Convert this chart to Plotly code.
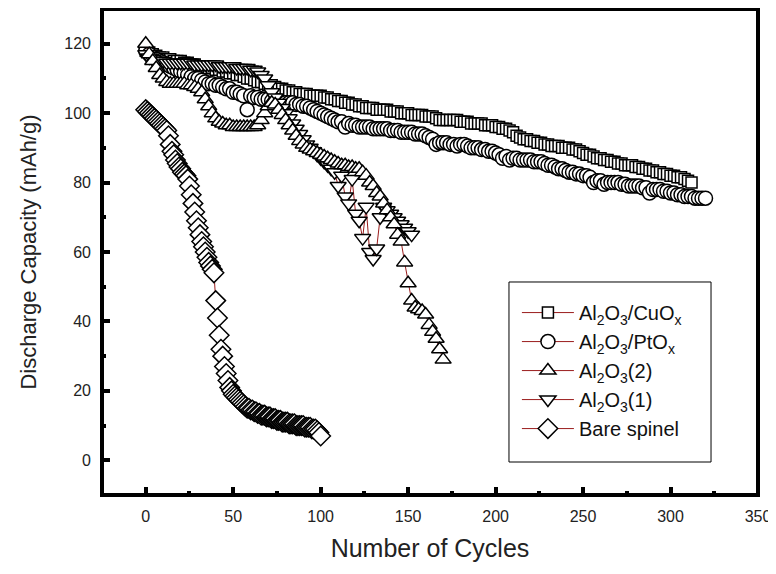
import plotly.graph_objects as go

# ---------------- data ----------------
cuo_cycles = list(range(0, 313, 2))
cuo_capacity = [
    118, 117.5, 117, 116.5, 116, 116, 115.5, 115.5, 115, 115,
    115, 114.5, 114.5, 114, 114, 113.5, 113.5, 113, 113, 113,
    112.5, 112.5, 112, 112, 111.5, 111.5, 111, 111, 110.5, 110,
    110, 109.5, 109, 109, 108.5, 108, 108, 107.5, 107, 107,
    106.5, 106.5, 106, 106, 105.5, 105.5, 105.5, 105, 105, 105,
    105, 104.5, 104.5, 104, 104, 103.5, 103.5, 103, 103, 102.5,
    102.5, 102, 102, 101.5, 101.5, 101.5, 101, 101, 101, 101,
    100.5, 100.5, 100.5, 100, 100, 100, 99.5, 99.5, 99.5, 99.5,
    99, 99, 99, 98.5, 98, 98, 98, 98, 98, 98,
    97.5, 97.5, 97.5, 97, 97, 97, 97, 96.5, 96.5, 96.5,
    96, 96, 95.5, 95.5, 95, 94.5, 93.5, 93, 92.5, 92.5,
    92, 92, 91.5, 91.5, 91, 91, 90.5, 90.5, 90.5, 90,
    90, 90, 89.5, 89.5, 89, 88.5, 88, 88, 87.5, 87,
    87, 86.5, 86.5, 86, 86, 85.5, 85.5, 85, 85, 85,
    84.5, 84.5, 84, 84, 83.5, 83.5, 83, 83, 82.5, 82.5,
    82, 82, 81.5, 81.5, 81, 80.5, 80,
]

pto_cycles = list(range(0, 321, 2))
pto_capacity = [
    118, 117, 116, 115.5, 115, 114.5, 114, 113.5, 113, 112.5,
    112, 111.5, 111, 110.5, 110, 110, 109.5, 109, 108.5, 108.5,
    108, 108, 107.5, 107, 107, 106, 106, 105.5, 105, 101,
    105, 104.5, 104.5, 104, 104, 104, 103.5, 103.5, 103.5, 103,
    103, 103, 103, 102.5, 102.5, 102, 102, 101.5, 101, 100.5,
    100, 99.5, 99, 98.5, 98, 97.5, 97.5, 96, 97, 96.5,
    96.5, 96, 96, 96, 96, 95.5, 95.5, 95.5, 95.5, 95.5,
    95, 95, 95, 94.5, 94.5, 94.5, 94.5, 94, 94, 94,
    93.5, 93, 92.5, 91, 91.5, 91.5, 91.5, 91, 91, 90.5,
    91, 91, 90.5, 90, 90, 90, 89.5, 89.5, 89, 89,
    88.5, 88, 87, 87.5, 86.5, 87, 87, 86.5, 86.5, 86.5,
    86.5, 86, 86, 86, 85.5, 85, 85, 84.5, 84, 84,
    83.5, 83, 83, 82.5, 82.5, 82, 82, 81.5, 80, 80.5,
    80.5, 79.5, 80, 80, 80, 80, 79.5, 79.5, 79, 79,
    79, 79, 78.5, 78.5, 77, 78, 78, 78, 77.5, 77.5,
    77, 77, 76.5, 76.5, 76, 76, 76, 75.5, 75.5, 75.5,
    75.5,
]

al2_cycles = list(range(0, 171, 2))
al2_capacity = [
    120, 117, 115, 113, 111, 110, 109, 108.5, 108.5, 108.5,
    108.5, 108.5, 108, 108, 107.5, 107, 106, 104, 102, 100,
    98.5, 97.5, 97, 96.5, 96.5, 96, 96, 96, 96, 96,
    96, 96, 96.5, 98, 100, 102, 103, 102.5, 101, 99.5,
    98, 96.5, 95, 93.5, 92, 91, 90, 89.5, 89, 88.5,
    88, 87.5, 87, 86.5, 86, 85.5, 85, 85, 84.5, 84.5,
    84, 84, 83, 82, 80, 79, 77, 76, 74, 72,
    70, 68, 65, 63, 57, 51, 46, 44, 43.5, 43,
    42, 39, 37, 35, 32, 29,
]

al1_cycles = list(range(0, 153, 2))
al1_capacity = [
    117, 116, 115.5, 115, 115, 115, 114.5, 114.5, 114.5, 114.5,
    114.5, 114.5, 114.5, 114.5, 114, 114, 114, 114, 114, 114,
    114, 113.5, 113.5, 113.5, 113.5, 113.5, 113, 113, 113, 113,
    112.5, 112.5, 112, 111, 110, 108, 106, 104.5, 103, 101.5,
    100, 98.5, 97, 95.5, 94, 92.5, 91, 90, 89, 88,
    87, 86, 85, 84, 83, 79, 82, 76, 74, 81,
    71, 69, 64, 73, 60, 58, 61, 70, 73, 72,
    71, 70, 69, 68, 67, 66, 65,
]

bare_cycles = list(range(0, 101, 1))
bare_capacity = [
    101, 100.5, 100, 99.5, 99, 98.5, 98, 97.5, 97, 96.5,
    96, 95.5, 95, 93.5, 91, 89, 88, 86.5, 85.5, 84.5,
    84, 83, 82.5, 82, 81, 79, 76.5, 74, 71.5, 69,
    67, 65, 63, 61.5, 60, 58.5, 57, 56, 55, 54,
    46, 41, 36, 32, 30, 27, 25, 23, 21, 20,
    19, 18.5, 18, 17.5, 17, 16.5, 16, 15.5, 15, 15,
    14.5, 14.5, 14, 14, 13.5, 13.5, 13, 13, 13, 12.5,
    12.5, 12.5, 12, 12, 12, 11.5, 11.5, 11.5, 11, 11,
    11, 11, 10.5, 10.5, 10.5, 10.5, 10, 10, 10, 10,
    10, 9.5, 9.5, 9.5, 9.5, 9, 9, 9, 8.5, 8,
    7,
]

x_ticks = [0, 50, 100, 150, 200, 250, 300, 350]
y_ticks = [0, 20, 40, 60, 80, 100, 120]

# ---------------- figure ----------------
FONT = "Liberation Sans, Arial, sans-serif"
LINE_COLOR = "#9a1c1c"

fig = go.Figure()

series = [
    # name, x, y, symbol, size, legend rank
    ("Al<sub>2</sub>O<sub>3</sub>/CuO<sub>x</sub>", cuo_cycles, cuo_capacity, "square", 11, 1),
    ("Al<sub>2</sub>O<sub>3</sub>/PtO<sub>x</sub>", pto_cycles, pto_capacity, "circle", 14, 2),
    ("Al<sub>2</sub>O<sub>3</sub>(1)", al1_cycles, al1_capacity, "triangle-down", 14, 4),
    ("Al<sub>2</sub>O<sub>3</sub>(2)", al2_cycles, al2_capacity, "triangle-up", 14, 3),
    ("Bare spinel", bare_cycles, bare_capacity, "diamond", 15, 5),
]

for name, xs, ys, sym, size, rank in series:
    fig.add_trace(go.Scatter(
        x=xs, y=ys, name=name, mode="lines+markers",
        line=dict(color=LINE_COLOR, width=1),
        marker=dict(symbol=sym, size=size, color="white",
                    line=dict(color="black", width=1.5)),
        legendrank=rank, legendgroup="g%d" % rank,
    ))

axis_common = dict(
    showline=False, showgrid=False, zeroline=False, automargin=False,
    ticks="inside", ticklen=8, tickwidth=4, tickcolor="black",
    tickfont=dict(family=FONT, size=16, color="#222222"),
)

# thick plot frame and legend frame (paper coordinates)
plot_frame = dict(type="rect", xref="paper", yref="paper",
                  x0=0, x1=1, y0=0, y1=1,
                  line=dict(color="black", width=4), fillcolor="rgba(0,0,0,0)", layer="above")
legend_box = dict(type="rect", xref="paper", yref="paper",
                  x0=0.6204, x1=0.9284, y0=0.0679, y1=0.4383,
                  line=dict(color="black", width=1), fillcolor="white", layer="above")

fig.update_layout(
    width=776, height=574,
    margin=dict(l=94, r=26, t=1, b=87),
    paper_bgcolor="white", plot_bgcolor="white",
    font=dict(family=FONT, color="#222222"),
    showlegend=True,
    shapes=[plot_frame, legend_box],
    legend=dict(
        x=0.6325, y=0.4155, xanchor="left", yanchor="top",
        bgcolor="rgba(0,0,0,0)", borderwidth=0,
        font=dict(family=FONT, size=20, color="#111111"),
        traceorder="grouped", itemwidth=52,
        tracegroupgap=0,
    ),
    xaxis=dict(
        range=[-25, 350], tickvals=x_ticks,
        minor=dict(ticks="inside", ticklen=4, tickwidth=4, tickcolor="black",
                   tick0=25, dtick=50),
        ticklabelstandoff=10,
        title=dict(text="Number of Cycles", font=dict(family=FONT, size=25, color="#222222"),
                   standoff=15),
        **axis_common,
    ),
    yaxis=dict(
        range=[-10, 130], tickvals=y_ticks,
        minor=dict(ticks="inside", ticklen=4, tickwidth=4, tickcolor="black",
                   tick0=10, dtick=20),
        ticklabelstandoff=10,
        title=dict(text="Discharge Capacity (mAh/g)", font=dict(family=FONT, size=22, color="#222222"),
                   standoff=21),
        **axis_common,
    ),
)

fig.write_html("out.html")
